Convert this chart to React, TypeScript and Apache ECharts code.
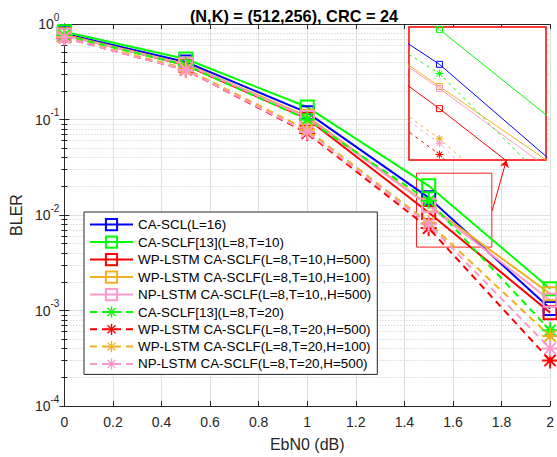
import React, { useEffect, useRef } from 'react';
import * as echarts from 'echarts';

// ---- data ----
const ebn0 = [0, 0.5, 1, 1.5, 2];
const seriesNames = [
  'CA-SCL(L=16)',
  'CA-SCLF[13](L=8,T=10)',
  'WP-LSTM CA-SCLF(L=8,T=10,H=500)',
  'WP-LSTM CA-SCLF(L=8,T=10,H=100)',
  'NP-LSTM CA-SCLF(L=8,T=10,,H=500)',
  'CA-SCLF[13](L=8,T=20)',
  'WP-LSTM CA-SCLF(L=8,T=20,H=500)',
  'WP-LSTM CA-SCLF(L=8,T=20,H=100)',
  'NP-LSTM CA-SCLF(L=8,T=20,H=500)',
];
const blerCASCL16 = [0.79, 0.4, 0.118, 0.0152, 0.00105];
const blerCASCLF_T10 = [0.83, 0.43, 0.135, 0.0202, 0.00169];
const blerWP500_T10 = [0.77, 0.37, 0.102, 0.0106, 0.00095];
const blerWP100_T10 = [0.77, 0.38, 0.108, 0.0127, 0.0015];
const blerNP500_T10 = [0.76, 0.375, 0.105, 0.0125, 0.00128];
const blerCASCLF_T20 = [0.76, 0.37, 0.1, 0.0141, 0.00062];
const blerWP500_T20 = [0.72, 0.33, 0.072, 0.0073, 0.0003];
const blerWP100_T20 = [0.73, 0.34, 0.078, 0.0083, 0.00054];
const blerNP500_T20 = [0.72, 0.33, 0.074, 0.008, 0.0004];
const allBler = [
  blerCASCL16, blerCASCLF_T10, blerWP500_T10, blerWP100_T10, blerNP500_T10,
  blerCASCLF_T20, blerWP500_T20, blerWP100_T20, blerNP500_T20,
];
// zoom box (data coordinates) and arrow
const zoomBoxX = [1.45, 1.76];
const zoomBoxY = [0.0274, 0.00461];
const arrowX = [1.7615, 1.82];
const arrowY = [0.0111, 0.0374];
const insetX = [1.46, 1.64];
const insetY = [0.00698, 0.0206];

// ---- styles ----
const colors = ['#0000ff', '#00ff00', '#ff0000', '#edb120', '#ff99cc', '#00ff00', '#ff0000', '#edb120', '#ff99cc'];
const isStar = [false, false, false, false, false, true, true, true, true];
const STAR =
  'path://M0 8.8H20V11.2H0Z M8.8 0H11.2V20H8.8Z M3.75 2.05L17.95 16.25L16.25 17.95L2.05 3.75Z M17.95 3.75L3.75 17.95L2.05 16.25L16.25 2.05Z';
const FONT = '"Liberation Sans", Arial, Helvetica, sans-serif';
const AX = '#262626';

export default function App() {
  const ref = useRef<HTMLDivElement>(null);
  useEffect(() => {
    if (!ref.current) return;
    const chart = echarts.init(ref.current, undefined, { renderer: 'svg' });

    const mainSeries: any[] = seriesNames.map((name, i) => {
      const c = colors[i];
      const s: any = {
        name,
        type: 'line',
        xAxisIndex: 0,
        yAxisIndex: 0,
        data: ebn0.map((x, j) => [x, allBler[i][j]]),
        symbol: isStar[i] ? STAR : 'rect',
        symbolSize: isStar[i] ? 16 : 13,
        symbolKeepAspect: true,
        itemStyle: isStar[i]
          ? { color: c }
          : { color: 'rgba(255,255,255,0)', borderColor: c, borderWidth: 2 },
        lineStyle: { color: c, width: 2, type: isStar[i] ? [7, 5] : 'solid' },
        emphasis: { disabled: true },
        z: 2,
      };
      if (i === 0) {
        s.markArea = {
          silent: true,
          itemStyle: { color: 'rgba(0,0,0,0)', borderColor: '#ff2020', borderWidth: 1 },
          label: { show: false },
          data: [[{ coord: [zoomBoxX[0], zoomBoxY[0]] }, { coord: [zoomBoxX[1], zoomBoxY[1]] }]],
        };
        s.markLine = {
          silent: true,
          symbol: ['none', 'arrow'],
          symbolSize: 7,
          label: { show: false },
          lineStyle: { color: '#ff0000', width: 1, type: 'solid' },
          data: [[{ coord: [arrowX[0], arrowY[0]] }, { coord: [arrowX[1], arrowY[1]] }]],
        };
      }
      return s;
    });

    const insetSeries: any[] = seriesNames.map((name, i) => {
      const c = colors[i];
      return {
        name: 'inset ' + name,
        type: 'line',
        xAxisIndex: 2,
        yAxisIndex: 2,
        clip: true,
        data: ebn0.map((x, j) => [x, allBler[i][j]]),
        symbol: isStar[i] ? STAR : 'rect',
        symbolSize: isStar[i] ? 8 : 6,
        itemStyle: isStar[i]
          ? { color: c }
          : { color: 'rgba(255,255,255,0)', borderColor: c, borderWidth: 1 },
        lineStyle: { color: c, width: 1, type: isStar[i] ? [3, 4] : 'solid' },
        emphasis: { disabled: true },
        z: 5,
      };
    });

    const yLabel = {
      color: AX,
      fontFamily: FONT,
      margin: 5,
      formatter: (v: number) => `{b|10}{s|${Math.round(Math.log10(v))}}`,
      rich: {
        b: { fontSize: 14, color: AX, fontFamily: FONT, lineHeight: 24 },
        s: { fontSize: 10, color: AX, fontFamily: FONT, lineHeight: 11, verticalAlign: 'top' },
      },
    };

    chart.setOption({
      animation: false,
      backgroundColor: '#fff',
      title: {
        text: '(N,K) = (512,256), CRC = 24',
        left: 289,
        textAlign: 'center',
        top: 3,
        textStyle: { fontSize: 16.3, fontWeight: 'bold', color: '#000', fontFamily: FONT },
      },
      legend: {
        data: seriesNames,
        orient: 'vertical',
        left: 84,
        top: 212,
        backgroundColor: '#fff',
        borderColor: AX,
        borderWidth: 1,
        padding: [6, 6, 4, 5],
        itemGap: 4.3,
        itemWidth: 43,
        itemHeight: 14,
        textStyle: { fontSize: 13.4, color: '#000', fontFamily: FONT },
        z: 10,
      },
      grid: [
        { left: 62, right: 6, top: 24, bottom: 49 },
        {
          left: 409, top: 27, width: 137, height: 133, show: true,
          backgroundColor: '#fff', borderColor: '#ff0000', borderWidth: 1.5, z: 1,
        },
      ],
      xAxis: [
        {
          type: 'value', gridIndex: 0, min: 0, max: 2, interval: 0.2,
          axisLine: { lineStyle: { color: AX } },
          axisTick: { inside: true, length: 5, lineStyle: { color: AX } },
          axisLabel: { color: AX, fontSize: 14, fontFamily: FONT, margin: 9 },
          splitLine: { show: true, lineStyle: { color: '#dfdfdf', width: 1 } },
          name: 'EbN0 (dB)', nameLocation: 'middle', nameGap: 30,
          nameTextStyle: { color: AX, fontSize: 16, fontFamily: FONT },
        },
        {
          type: 'value', gridIndex: 0, position: 'top', min: 0, max: 2, interval: 0.2,
          axisLine: { show: true, lineStyle: { color: AX } },
          axisTick: { inside: true, length: 5, lineStyle: { color: AX } },
          axisLabel: { show: false },
          splitLine: { show: false },
        },
        {
          type: 'value', gridIndex: 1, min: insetX[0], max: insetX[1], splitNumber: 4,
          axisLine: { show: false }, axisTick: { show: false }, axisLabel: { show: false },
          splitLine: { show: true, lineStyle: { color: '#e2e2e2', width: 1.5 } },
        },
      ],
      yAxis: [
        {
          type: 'log', logBase: 10, gridIndex: 0, min: 1e-4, max: 1,
          axisLine: { show: true, lineStyle: { color: AX } },
          axisTick: { inside: true, length: 5, lineStyle: { color: AX } },
          minorTick: { show: true, splitNumber: 9, length: 3, lineStyle: { color: AX } },
          axisLabel: yLabel,
          splitLine: { show: true, lineStyle: { color: '#dfdfdf', width: 1 } },
          minorSplitLine: { show: true, lineStyle: { color: '#c8c8c8', width: 1, type: [1, 2] } },
          name: 'BLER', nameLocation: 'middle', nameGap: 38,
          nameTextStyle: { color: AX, fontSize: 16, fontFamily: FONT },
        },
        {
          type: 'log', logBase: 10, gridIndex: 0, min: 1e-4, max: 1, position: 'right',
          axisLine: { show: true, lineStyle: { color: AX } },
          axisTick: { inside: true, length: 5, lineStyle: { color: AX } },
          minorTick: { show: true, splitNumber: 9, length: 3, lineStyle: { color: AX } },
          axisLabel: { show: false },
          splitLine: { show: false },
        },
        {
          type: 'log', logBase: 10, gridIndex: 1, min: insetY[0], max: insetY[1],
          axisLine: { show: false }, axisTick: { show: false }, axisLabel: { show: false },
          splitLine: { show: true, lineStyle: { color: '#e2e2e2', width: 1.5 } },
          minorSplitLine: { show: true, lineStyle: { color: '#e2e2e2', width: 1.5 } },
          minorTick: { show: false, splitNumber: 9 },
        },
      ],
      series: [...mainSeries, ...insetSeries],
    });
    return () => chart.dispose();
  }, []);
  return (
    <div
      ref={ref}
      style={{ position: 'fixed', left: 0, top: 0, width: 557, height: 457 }}
    />
  );
}
